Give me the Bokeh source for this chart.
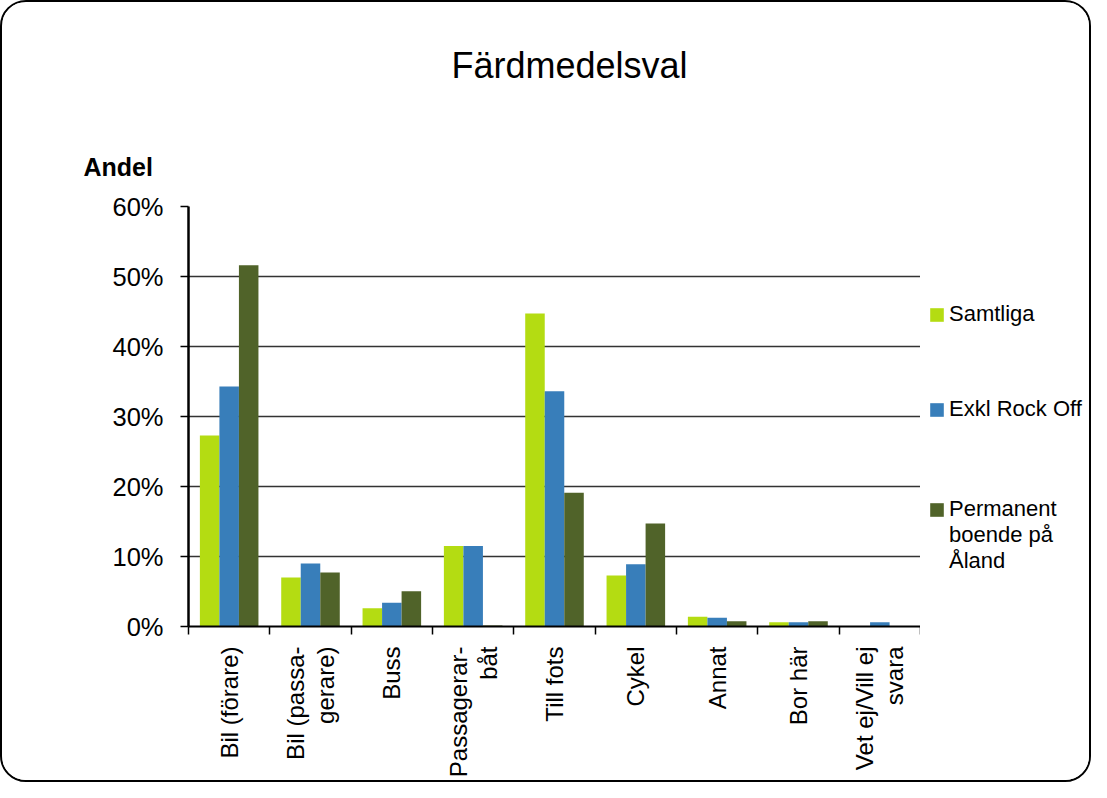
from math import pi
from bokeh.plotting import figure
from bokeh.layouts import row
from bokeh.models import (Range1d, LinearAxis, FixedTicker, NumeralTickFormatter, Legend,
                          LegendItem, Title, ColumnDataSource)
from bokeh.transform import dodge
from bokeh.embed import file_html
from bokeh.resources import INLINE

categories = ["Bil (förare)", "Bil (passa-\ngerare)", "Buss", "Passagerar-\nbåt", "Till fots",
              "Cykel", "Annat", "Bor här", "Vet ej/Vill ej\nsvara"]
samtliga = [0.273, 0.070, 0.026, 0.115, 0.447, 0.073, 0.014, 0.006, 0.0]
exkl_rock_off = [0.343, 0.090, 0.034, 0.115, 0.336, 0.089, 0.0125, 0.006, 0.006]
permanent = [0.516, 0.077, 0.0505, 0.0015, 0.191, 0.147, 0.0074, 0.0074, 0.0]
series_names = ["Samtliga", "Exkl Rock Off", "Permanent", "boende på", "Åland"]
colors = ["#B4DC12", "#387EBA", "#506329"]
y_ticks = [0.0, 0.1, 0.2, 0.3, 0.4, 0.5, 0.6]

FONT = "Liberation Sans"
n = len(categories)
centers = [i + 0.5 for i in range(n)]

src = ColumnDataSource(data=dict(x=centers, s=samtliga, e=exkl_rock_off, p=permanent))

p = figure(width=918, height=778, title=None, x_range=Range1d(0, n), y_range=Range1d(0, 0.6),
           x_axis_location=None, output_backend="svg", toolbar_location=None,
           min_border_left=186, min_border_right=0, min_border_top=200, min_border_bottom=150)
p.outline_line_color = None
p.background_fill_color = "white"
p.border_fill_color = "white"

# y axis
p.yaxis.ticker = FixedTicker(ticks=y_ticks)
p.yaxis.formatter = NumeralTickFormatter(format="0%")
p.yaxis.axis_line_color = "black"
p.yaxis.axis_line_width = 2.5
p.yaxis.major_tick_out = 8
p.yaxis.major_tick_in = 0
p.yaxis.major_tick_line_width = 1.5
p.yaxis.major_tick_line_color = "black"
p.yaxis.minor_tick_line_color = None
p.yaxis.major_label_standoff = 17
p.yaxis.major_label_text_font = FONT
p.yaxis.major_label_text_font_size = "25.5px"
p.yaxis.major_label_text_color = "black"

p.ygrid.ticker = FixedTicker(ticks=y_ticks)
p.ygrid.grid_line_color = "#333333"
p.ygrid.grid_line_width = 1.6
p.xgrid.grid_line_color = None

# x axis: boundary ticks, then category labels
tick_axis = LinearAxis(ticker=FixedTicker(ticks=list(range(n + 1))),
                       major_tick_out=8, major_tick_in=0, major_tick_line_width=1.5,
                       major_tick_line_color="black", minor_tick_line_color=None,
                       axis_line_color="black", axis_line_width=2,
                       major_label_text_font_size="0px", major_label_standoff=0,
                       major_label_text_alpha=0)
p.add_layout(tick_axis, "below")
label_axis = LinearAxis(ticker=FixedTicker(ticks=centers),
                        major_label_overrides={c: lab for c, lab in zip(centers, categories)},
                        axis_line_color=None, major_tick_line_color=None,
                        minor_tick_line_color=None, major_label_orientation=pi / 2,
                        major_label_text_font=FONT, major_label_text_font_size="24px",
                        major_label_text_color="black", major_label_standoff=6,
                        major_label_text_line_height=1.1)
p.add_layout(label_axis, "below")

p.vbar(x=dodge("x", -0.24, range=p.x_range), top="s", width=0.24, source=src,
       fill_color=colors[0], line_color=None)
p.vbar(x=dodge("x", 0.0, range=p.x_range), top="e", width=0.24, source=src,
       fill_color=colors[1], line_color=None)
p.vbar(x=dodge("x", 0.24, range=p.x_range), top="p", width=0.24, source=src,
       fill_color=colors[2], line_color=None)

andel = Title(text="Andel", align="left", offset=-105, standoff=51,
              text_font=FONT, text_font_size="25px", text_font_style="bold", text_color="black")
p.add_layout(andel, "above")
main_title = Title(text="Färdmedelsval", align="left", offset=263, standoff=80,
                   text_font=FONT, text_font_size="36px", text_font_style="normal",
                   text_color="black")
p.add_layout(main_title, "above")

# legend panel (its frame is aligned with the chart frame by the row layout)
lg = figure(width=169, height=778, x_range=Range1d(0, 1), y_range=Range1d(0, 1),
            x_axis_location=None, y_axis_location=None, output_backend="svg",
            toolbar_location=None, min_border=0)
lg.outline_line_color = None
lg.background_fill_color = "white"
lg.border_fill_color = "white"
lg.xgrid.grid_line_color = None
lg.ygrid.grid_line_color = None


def swatch(**kw):
    # zero-height placeholder glyph; only its legend swatch is visible
    return lg.vbar(x="x", top="top", width=0.1,
                   source=ColumnDataSource(dict(x=[0.5], top=[0.0])), line_color=None, **kw)


g1 = swatch(fill_color=colors[0])
g2 = swatch(fill_color=colors[1])
g3 = swatch(fill_color=colors[2])
g0 = swatch(fill_alpha=0)

common = dict(orientation="vertical", label_text_font=FONT, label_text_font_size="22px",
              label_text_color="black", label_text_line_height=1.25,
              glyph_width=17, glyph_height=17, label_standoff=4,
              padding=0, margin=0, border_line_color=None, background_fill_alpha=0)
legend_a = Legend(items=[LegendItem(label=series_names[0], renderers=[g1]),
                         LegendItem(label=series_names[1], renderers=[g2])],
                  location=(8, 204), spacing=69, **common)
legend_b = Legend(items=[LegendItem(label=series_names[2], renderers=[g3]),
                         LegendItem(label=series_names[3], renderers=[g0]),
                         LegendItem(label=series_names[4], renderers=[g0])],
                  location=(8, 52), spacing=0, **common)
lg.add_layout(legend_a)
lg.add_layout(legend_b)

layout = row(p, lg, styles={"border": "2px solid black", "border-radius": "26px",
                            "overflow": "hidden"})

open("out.html", "w").write(file_html(layout, INLINE))
